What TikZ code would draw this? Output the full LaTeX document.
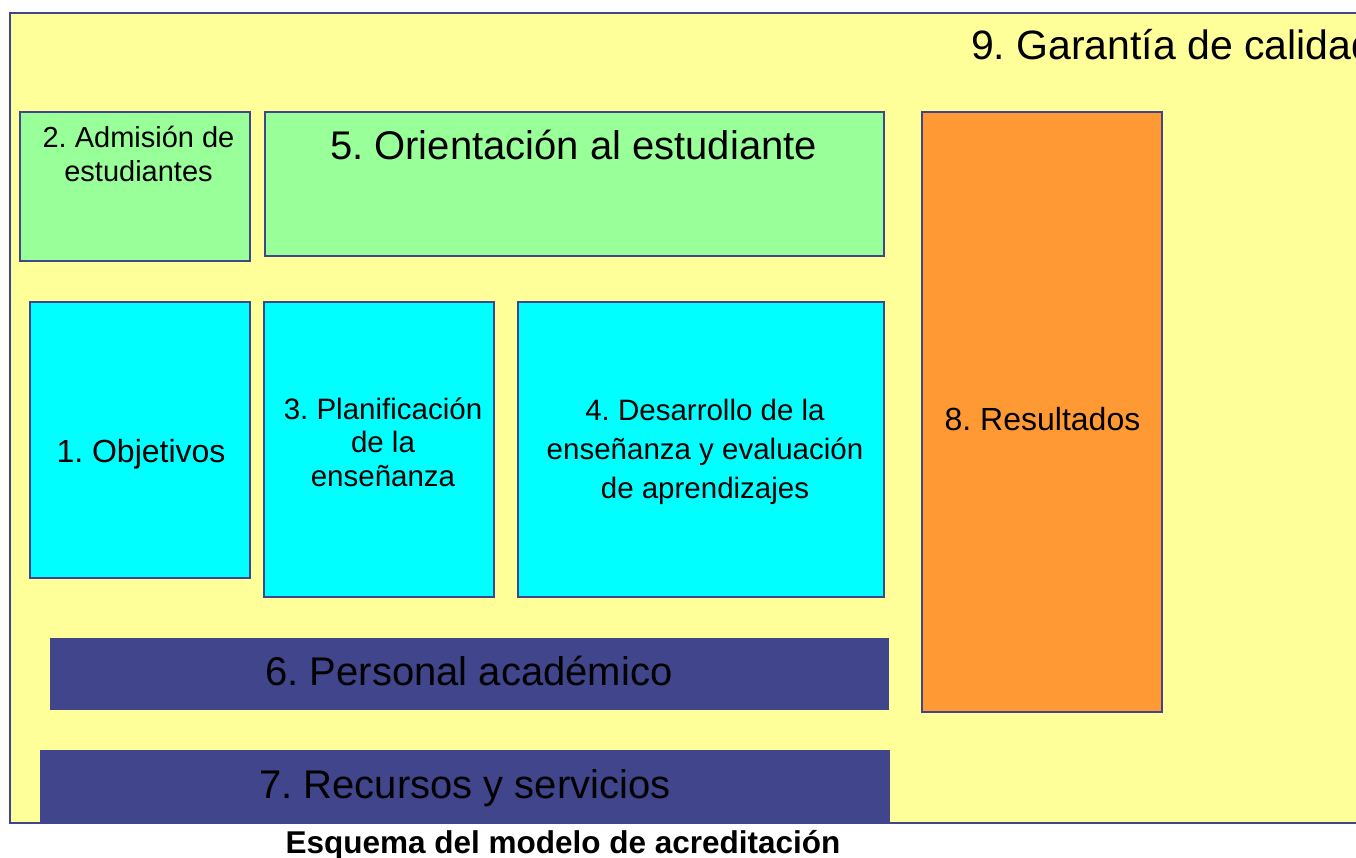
\documentclass[tikz,border=0pt]{standalone}
\usepackage{fontspec}
\setmainfont{Liberation Sans}
\frenchspacing
\definecolor{bordc}{HTML}{40458C}
\definecolor{bgy}{HTML}{FFFF99}
\definecolor{grn}{HTML}{99FF99}
\definecolor{cyn}{HTML}{00FFFF}
\definecolor{org}{HTML}{FF9933}
\begin{document}
\begin{tikzpicture}[x=1pt,y=-1pt,
  box/.style={draw=bordc,line width=1.8pt,inner sep=0pt,outer sep=0pt,anchor=north west},
  bar/.style={fill=bordc,inner sep=0pt,outer sep=0pt,anchor=north west},
  txt/.style={inner sep=0pt,outer sep=0pt,align=center,text=black},
  big/.style={txt,font=\frenchspacing\fontsize{40}{46}\selectfont},
  mid/.style={txt,font=\frenchspacing\fontsize{29.5}{33.5}\selectfont},
  midb/.style={txt,font=\frenchspacing\fontsize{32}{36}\selectfont}]
\useasboundingbox (0,0) rectangle (1356,858);
\fill[white] (0,0) rectangle (1356,858);
% outer frame: 9. Garantia de calidad
\fill[bgy] (10,13) rectangle (1370,823);
\draw[bordc,line width=1.8pt] (1370,13) -- (10,13) -- (10,823) -- (1370,823);
\node[big,font=\frenchspacing\fontsize{41}{46}\selectfont,anchor=base west] (t9) at (971,60) {9. Garantía de calidad};
% boxes
\node[box,fill=grn,minimum width=230pt,minimum height=149pt] (b2) at (20,112) {};
\node[box,fill=grn,minimum width=619pt,minimum height=144pt] (b5) at (265,112) {};
\node[box,fill=cyn,minimum width=220pt,minimum height=276pt] (b1) at (30,302) {};
\node[box,fill=cyn,minimum width=230pt,minimum height=295pt] (b3) at (264,302) {};
\node[box,fill=cyn,minimum width=366pt,minimum height=295pt] (b4) at (518,302) {};
\node[box,fill=org,minimum width=240pt,minimum height=600pt] (b8) at (922,112) {};
\node[bar,minimum width=839pt,minimum height=72pt] (b6) at (50,638) {};
\node[bar,minimum width=850pt,minimum height=74pt] (b7) at (40,750) {};
% texts (base anchor = baseline of last line)
\node[mid,font=\frenchspacing\fontsize{29}{34}\selectfont,anchor=base] (t2) at (138.5,182) {2. Admisión de\\estudiantes};
\node[big,anchor=base] (t5) at (573.5,160) {5. Orientación al estudiante};
\node[midb,anchor=base] (t1) at (141,462) {1. Objetivos};
\node[mid,anchor=base] (t3) at (383,486) {3. Planificación\\de la\\enseñanza};
\node[mid,font=\frenchspacing\fontsize{29.5}{39}\selectfont,anchor=base] (t4) at (705,498) {4. Desarrollo de la\\enseñanza y evaluación\\de aprendizajes};
\node[midb,anchor=base] (t8) at (1042.5,430) {8. Resultados};
\node[big,anchor=base] (t6) at (469,685) {6. Personal académico};
\node[big,anchor=base] (t7) at (465,798) {7. Recursos y servicios};
\node[txt,font=\frenchspacing\fontsize{31.5}{34}\selectfont\bfseries,anchor=base] (cap) at (563,853) {Esquema del modelo de acreditación};
\end{tikzpicture}
\end{document}
